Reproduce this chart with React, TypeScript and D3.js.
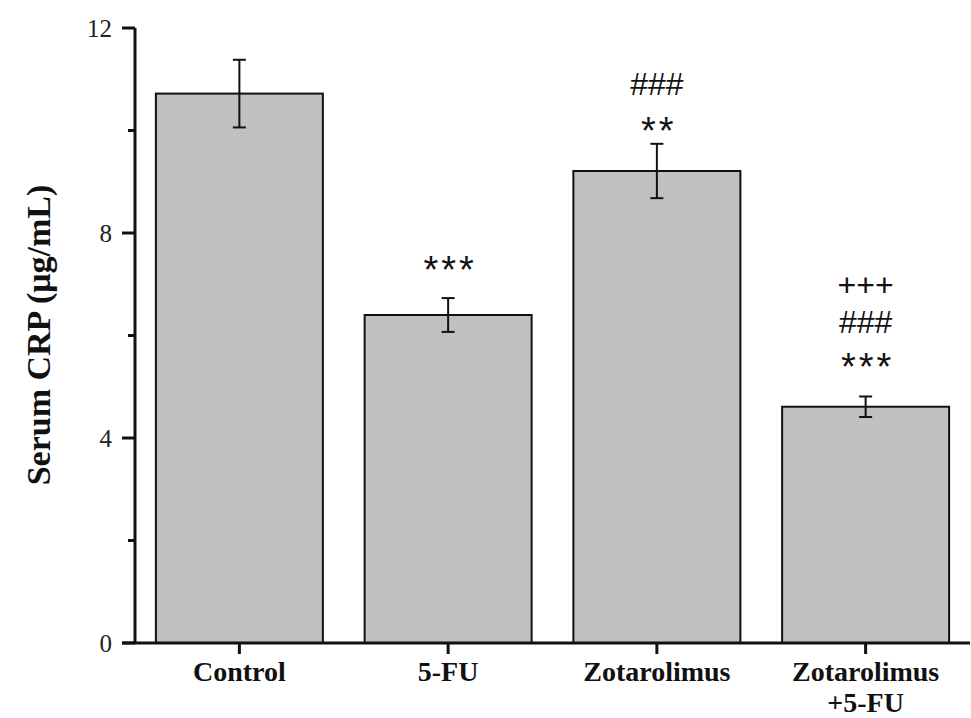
import React from "react";
import * as d3 from "d3";

const categories = ["Control", "5-FU", "Zotarolimus", "Zotarolimus\n+5-FU"];
const means = [10.72, 6.4, 9.21, 4.61];
const errors = [0.66, 0.33, 0.53, 0.2];
const annotations = [[], ["***"], ["**", "###"], ["***", "###", "+++"]];
const yTicks = [0, 4, 8, 12];
const yMinorTicks = [2, 6, 10];

const W = 971;
const H = 718;
const left = 135;
const right = 970;
const top = 28;
const bottom = 643;
// layout: gap between error cap and first annotation centre, per bar
const annotGap = [0, 36, 21, 38];
const annotStep = 37;

export default function App() {
  const x = d3
    .scaleBand<string>()
    .domain(categories)
    .range([left, right])
    .paddingInner(0.2)
    .paddingOuter(0.1);
  const y = d3.scaleLinear().domain([0, 12]).range([bottom, top]);
  const bw = x.bandwidth();

  return (
    <svg
      width={W}
      height={H}
      style={{ position: "absolute", left: 0, top: 0, background: "#fff" }}
    >
      {categories.map((c, i) => {
        const x0 = x(c)!;
        const cx = x0 + bw / 2;
        const yt = y(means[i]);
        const ye1 = y(means[i] + errors[i]);
        const ye0 = y(means[i] - errors[i]);
        return (
          <g key={c}>
            <rect
              x={x0}
              y={yt}
              width={bw}
              height={bottom - yt}
              fill="#c0c0c0"
              stroke="#111"
              strokeWidth={2}
            />
            <line x1={cx} x2={cx} y1={ye1} y2={ye0} stroke="#111" strokeWidth={2} />
            <line x1={cx - 6.5} x2={cx + 6.5} y1={ye1} y2={ye1} stroke="#111" strokeWidth={2} />
            <line x1={cx - 6.5} x2={cx + 6.5} y1={ye0} y2={ye0} stroke="#111" strokeWidth={2} />
            {annotations[i].map((a, j) => {
              const centre = ye1 - annotGap[i] - j * annotStep - (i === 2 && j === 1 ? 2 : 0);
              const isStar = a.startsWith("*");
              const fs = isStar ? 38 : 32;
              const baseline = isStar ? centre + 0.56 * fs : centre + 0.35 * fs;
              return (
                <text
                  key={j}
                  x={cx + (isStar ? 2 : 0)}
                  y={baseline}
                  textAnchor="middle"
                  fontFamily="Liberation Sans, Arial, sans-serif"
                  fontSize={fs}
                  letterSpacing={isStar ? 3 : 0}
                  fill="#111"
                >
                  {a}
                </text>
              );
            })}
            <line x1={cx} x2={cx} y1={bottom} y2={bottom + 11} stroke="#111" strokeWidth={3} />
            {c.split("\n").map((line, k) => (
              <text
                key={k}
                x={cx}
                y={681 + k * 31}
                textAnchor="middle"
                fontFamily="Liberation Serif, Times New Roman, serif"
                fontWeight="bold"
                fontSize={28}
                fill="#111"
              >
                {line}
              </text>
            ))}
          </g>
        );
      })}

      <line x1={left} x2={left} y1={top} y2={bottom} stroke="#111" strokeWidth={3} />
      <line x1={left - 13} x2={right} y1={bottom} y2={bottom} stroke="#111" strokeWidth={3} />
      {yTicks.map((t) => (
        <g key={t}>
          <line x1={left - 13} x2={left} y1={y(t)} y2={y(t)} stroke="#111" strokeWidth={3} />
          <text
            x={112}
            y={y(t) + 8.5}
            textAnchor="end"
            fontFamily="Liberation Serif, Times New Roman, serif"
            fontSize={25}
            fill="#222"
          >
            {t}
          </text>
        </g>
      ))}
      {yMinorTicks.map((t) => (
        <line key={t} x1={left - 7} x2={left} y1={y(t)} y2={y(t)} stroke="#111" strokeWidth={3} />
      ))}

      <text
        transform={`translate(50, 335) rotate(-90)`}
        textAnchor="middle"
        fontFamily="Liberation Serif, Times New Roman, serif"
        fontWeight="bold"
        fontSize={34}
        fill="#111"
      >
        Serum CRP (μg/mL)
      </text>
    </svg>
  );
}
